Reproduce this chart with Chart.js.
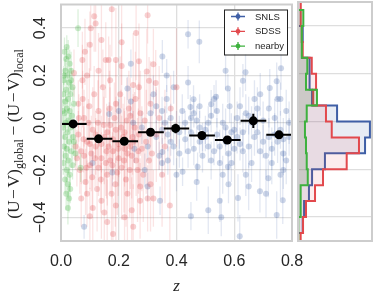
<!DOCTYPE html>
<html>
<head>
<meta charset="utf-8">
<script src="https://cdn.jsdelivr.net/npm/chart.js@4.4.1/dist/chart.umd.min.js"></script>
<style>
html, body { margin: 0; padding: 0; background: #fff; }
#wrap { position: relative; width: 374px; height: 297px; overflow: hidden; }
#main { position: absolute; left: 0; top: 0; }
#hist { position: absolute; left: 290px; top: 0; }
#ylab {
  position: absolute; left: -107px; top: 122px; width: 240px; height: 24px; line-height: 24px;
  text-align: center; transform: rotate(-90deg); white-space: nowrap;
  font-family: 'Liberation Serif', serif; font-size: 17.5px; color: #262626;
}
#ylab sub { font-size: 12px; vertical-align: -4px; line-height: 0; }
</style>
</head>
<body>
<div id="wrap">
  <canvas id="main" width="374" height="297"></canvas>
  <canvas id="hist" width="84" height="297"></canvas>
  <div id="ylab">(U&#8202;&minus;&#8202;V)<sub>global</sub>&thinsp;&minus;&thinsp;(U&#8202;&minus;&#8202;V)<sub>local</sub></div>
</div>
<script>
// tick values
var xTicks = [0, 0.2, 0.4, 0.6, 0.8];
var yTicks = [-0.4, -0.2, 0, 0.2, 0.4];

// [z, colour difference, error]
var snls = [
  [0.44,0.374,0.06],[0.479,0.342,0.09],[0.351,0.28,0.07],[0.366,0.20,0.07],[0.366,0.10,0.06],
  [0.448,0.067,0.05],[0.459,0.099,0.06],[0.48,0.07,0.05],[0.52,0.078,0.06],[0.537,0.11,0.07],
  [0.35,0.05,0.06],[0.639,0.214,0.08],[0.63,0.178,0.07],[0.578,0.145,0.06],[0.762,0.23,0.09],
  [0.747,0.175,0.08],[0.76,0.10,0.07],[0.53,0.10,0.06],[0.584,0.07,0.07],[0.723,0.147,0.08],
  [0.55,-0.17,0.07],[0.578,-0.186,0.06],[0.689,-0.29,0.09],[0.613,-0.318,0.10],[0.55,-0.33,0.09],
  [0.768,-0.328,0.10],[0.555,-0.40,0.08],[0.747,-0.39,0.10],[0.619,-0.48,0.09],[0.718,-0.235,0.08],
  [0.77,-0.20,0.08],[0.45,-0.395,0.06],[0.51,-0.37,0.10],[0.473,-0.186,0.06],[0.343,-0.33,0.06],
  [0.421,-0.207,0.06],[0.35,-0.17,0.06],[0.08,-0.44,0.05],[0.242,0.25,0.06],[0.23,0.145,0.05],
  [0.242,0.09,0.06],[0.167,0.037,0.05],[0.20,0.05,0.05],[0.109,-0.17,0.05],[0.178,-0.21,0.06],
  [0.254,-0.11,0.06],[0.25,0.0,0.05],
  [0.28,-0.02,0.07],[0.30,-0.10,0.06],[0.31,0.04,0.08],[0.33,-0.06,0.07],[0.34,-0.14,0.06],
  [0.29,-0.20,0.07],[0.32,0.12,0.08],[0.35,-0.03,0.06],[0.351,-0.124,0.06],[0.30,-0.27,0.06],
  [0.37,-0.05,0.07],[0.38,0.02,0.06],[0.39,-0.10,0.08],[0.40,-0.02,0.07],[0.41,-0.13,0.06],
  [0.42,0.05,0.07],[0.43,-0.07,0.06],[0.39,0.15,0.07],[0.40,-0.22,0.07],[0.37,-0.16,0.06],
  [0.43,0.00,0.05],[0.45,-0.04,0.06],[0.46,-0.11,0.07],[0.47,0.01,0.06],[0.48,-0.08,0.05],
  [0.49,-0.14,0.07],[0.50,-0.03,0.06],[0.51,-0.10,0.07],[0.52,0.03,0.07],[0.50,-0.06,0.06],
  [0.47,-0.25,0.08],[0.53,-0.12,0.06],[0.46,0.04,0.06],[0.54,-0.05,0.07],[0.55,-0.10,0.07],
  [0.56,0.00,0.08],[0.57,-0.08,0.06],[0.58,-0.13,0.07],[0.59,-0.04,0.08],[0.60,-0.11,0.07],
  [0.61,0.02,0.07],[0.56,-0.22,0.08],[0.60,-0.03,0.06],[0.62,-0.09,0.07],[0.58,-0.26,0.08],
  [0.63,-0.04,0.08],[0.64,0.04,0.08],[0.65,-0.10,0.09],[0.66,0.00,0.07],[0.67,-0.06,0.08],
  [0.68,0.06,0.09],[0.69,-0.12,0.08],[0.70,0.01,0.08],[0.66,-0.17,0.08],[0.64,-0.22,0.09],
  [0.70,-0.08,0.07],[0.67,0.10,0.08],[0.72,-0.06,0.08],[0.73,-0.11,0.09],[0.74,0.02,0.08],
  [0.75,-0.08,0.09],[0.76,-0.03,0.08],[0.77,-0.13,0.09],[0.78,0.05,0.09],[0.79,-0.06,0.08],
  [0.73,-0.17,0.09],[0.76,-0.22,0.10],
  [0.36,0.00,0.07],[0.38,-0.08,0.06],[0.41,-0.04,0.07],[0.44,-0.12,0.07],[0.45,0.02,0.06],
  [0.48,-0.02,0.07],[0.49,-0.06,0.06],[0.51,0.00,0.07],[0.52,-0.16,0.08],[0.54,0.05,0.07],
  [0.57,-0.02,0.08],[0.59,-0.17,0.08],[0.61,-0.06,0.07],[0.62,0.07,0.08],[0.63,-0.12,0.09],
  [0.65,0.03,0.08],[0.68,-0.04,0.09],[0.69,0.12,0.09],[0.71,-0.14,0.09],[0.72,0.06,0.08],
  [0.74,-0.05,0.09],[0.75,0.10,0.10],[0.77,-0.07,0.09],[0.78,-0.16,0.10],[0.79,0.00,0.09],
  [0.65,-0.27,0.10],[0.71,-0.30,0.10],[0.44,0.17,0.07],[0.57,0.22,0.08],[0.33,0.07,0.07]
];

var sdss = [
  [0.176,0.48,0.20],[0.115,0.45,0.15],[0.12,0.42,0.12],[0.103,0.40,0.18],[0.10,0.33,0.14],
  [0.074,0.265,0.12],[0.155,0.265,0.16],[0.165,0.265,0.10],[0.19,0.265,0.22],[0.30,0.455,0.12],
  [0.32,0.247,0.15],[0.297,0.217,0.18],[0.305,0.178,0.10],[0.328,0.168,0.14],[0.27,0.15,0.12],
  [0.40,0.15,0.25],[0.27,0.26,0.16],[0.38,0.06,0.14],[0.045,0.21,0.10],[0.074,0.18,0.15],
  [0.274,-0.27,0.12],[0.274,-0.33,0.16],[0.30,-0.32,0.14],[0.32,-0.32,0.12],[0.377,-0.35,0.25],
  [0.305,-0.16,0.12],[0.18,-0.47,0.15],[0.25,-0.44,0.18],[0.245,-0.37,0.14],[0.10,-0.395,0.12],
  [0.14,-0.33,0.16],
  [0.06,-0.05,0.10],[0.07,-0.12,0.14],[0.08,0.02,0.12],[0.09,-0.08,0.16],[0.10,-0.18,0.10],
  [0.11,-0.03,0.18],[0.12,-0.10,0.12],[0.13,0.05,0.15],[0.14,-0.15,0.11],[0.15,-0.06,0.20],
  [0.16,-0.22,0.13],[0.17,-0.01,0.16],[0.18,-0.12,0.12],[0.19,0.08,0.18],[0.20,-0.09,0.14],
  [0.21,-0.19,0.22],[0.22,-0.04,0.15],[0.23,-0.13,0.18],[0.24,0.03,0.16],[0.25,-0.08,0.20],
  [0.26,-0.16,0.15],[0.27,-0.05,0.22],[0.28,-0.11,0.18],[0.29,0.01,0.20],
  [0.065,-0.20,0.10],[0.075,0.10,0.12],[0.085,-0.25,0.14],[0.095,0.00,0.10],[0.105,-0.13,0.16],
  [0.115,0.12,0.12],[0.125,-0.28,0.18],[0.135,-0.07,0.12],[0.145,0.15,0.16],[0.155,-0.17,0.14],
  [0.165,-0.10,0.12],[0.175,-0.30,0.20],[0.185,0.02,0.15],[0.195,-0.21,0.18],[0.205,0.12,0.16],
  [0.215,-0.06,0.14],[0.225,-0.24,0.20],[0.235,0.06,0.16],[0.245,-0.14,0.18],[0.255,-0.02,0.15],
  [0.265,-0.20,0.22],[0.275,0.04,0.18],
  [0.07,-0.32,0.12],[0.09,0.20,0.14],[0.11,-0.36,0.15],[0.13,0.22,0.16],[0.15,-0.38,0.18],
  [0.17,0.18,0.15],[0.19,-0.35,0.20],[0.21,0.24,0.18],[0.23,-0.30,0.20],[0.25,0.16,0.22],
  [0.12,-0.05,0.10],[0.14,-0.09,0.12],[0.16,-0.04,0.10],[0.18,-0.07,0.14],[0.20,-0.15,0.12],
  [0.22,-0.11,0.16],[0.10,-0.09,0.10],[0.08,-0.14,0.12],[0.17,-0.16,0.14],[0.13,-0.19,0.12],
  [0.24,-0.10,0.18],[0.19,-0.03,0.14],[0.06,0.08,0.10],[0.05,-0.10,0.10],[0.33,-0.05,0.20],
  [0.35,-0.22,0.22],[0.31,0.08,0.18],[0.36,-0.10,0.24],
  [0.055,-0.15,0.12],[0.062,0.02,0.10],[0.078,-0.07,0.14],[0.088,-0.19,0.12],[0.098,0.07,0.16],
  [0.108,-0.23,0.14],[0.118,-0.15,0.12],[0.128,0.00,0.18],[0.138,-0.24,0.14],[0.148,-0.01,0.12],
  [0.158,-0.12,0.20],[0.168,0.06,0.16],[0.178,-0.18,0.14],[0.188,-0.26,0.18],[0.198,-0.11,0.20],
  [0.208,-0.02,0.16],[0.218,-0.16,0.22],[0.228,0.01,0.18],[0.238,-0.20,0.20],[0.248,-0.06,0.16],
  [0.258,0.10,0.20],[0.268,-0.12,0.18],[0.285,-0.22,0.20],[0.295,-0.08,0.22],[0.315,-0.13,0.20],
  [0.34,0.02,0.22],[0.083,0.30,0.14],[0.14,0.35,0.20],[0.21,0.34,0.18],[0.26,0.38,0.20],
  [0.16,-0.42,0.18],[0.22,-0.40,0.20],[0.09,-0.30,0.14],[0.31,-0.26,0.20]
];

var nearby = [
  [0.059,0.40,0.08],[0.012,0.30,0.06],[0.018,0.27,0.05],[0.025,0.28,0.07],[0.030,0.25,0.06],
  [0.015,0.22,0.05],[0.022,0.20,0.04],[0.035,0.22,0.08],[0.010,0.18,0.05],[0.028,0.17,0.05],
  [0.040,0.15,0.06],[0.018,0.14,0.04],[0.008,0.12,0.05],[0.032,0.12,0.05],[0.024,0.10,0.06],
  [0.015,0.09,0.05],[0.045,0.08,0.07],[0.020,0.06,0.05],[0.030,0.05,0.04],[0.012,0.04,0.06],
  [0.038,0.03,0.05],[0.026,0.01,0.05],[0.016,0.00,0.04],[0.008,-0.02,0.05],[0.034,-0.02,0.06],
  [0.022,-0.04,0.05],[0.014,-0.06,0.06],[0.042,-0.06,0.05],[0.028,-0.08,0.05],[0.010,-0.10,0.06],
  [0.020,-0.11,0.05],[0.036,-0.12,0.07],[0.016,-0.14,0.05],[0.026,-0.16,0.06],[0.008,-0.17,0.05],
  [0.040,-0.18,0.06],[0.020,-0.20,0.05],[0.030,-0.22,0.07],[0.014,-0.24,0.06],[0.024,-0.26,0.06],
  [0.068,-0.19,0.06],[0.050,-0.13,0.05],[0.018,-0.30,0.07],[0.028,-0.32,0.06],[0.024,-0.36,0.07],
  [0.010,0.20,0.04],[0.020,0.32,0.05],[0.035,0.18,0.05],[0.045,-0.08,0.06],[0.006,0.05,0.05],
  [0.032,-0.28,0.06]
];

// binned means
var binZ   = [0.042, 0.13, 0.219, 0.31, 0.397, 0.488, 0.576, 0.666, 0.755];
var binY   = [-0.005, -0.068, -0.078, -0.04, -0.024, -0.054, -0.073, 0.008, -0.051];
var binErr = [0.014, 0.012, 0.012, 0.014, 0.02, 0.016, 0.012, 0.03, 0.016];
var binLo  = [0, 0.089, 0.178, 0.267, 0.356, 0.444, 0.533, 0.622, 0.711];
var binHi  = [0.089, 0.178, 0.267, 0.356, 0.444, 0.533, 0.622, 0.711, 0.8];

// side histogram (density per bin, bottom to top)
var histEdges = [-0.533,-0.467,-0.4,-0.333,-0.267,-0.2,-0.133,-0.067,0,0.067,0.133,0.2,0.267,0.333,0.4,0.467,0.533];
var histSnls   = [0,0.32,0.41,0.74,0.95,1.82,4.53,4.86,2.64,0.95,0.81,0.77,0.27,0.32,0.03,0];
var histSdss   = [0.18,0.34,0.54,1.15,1.69,3.29,4.12,2.28,1.89,1.03,1.22,0.93,0.32,0.25,0.2,0.18];
var histNearby = [0,0.03,0.18,0.18,0.66,0.59,0.54,0.47,0.59,1.28,0.54,0.63,0.27,0.25,0.36,0];

var blue = '#3f5fa6', red = '#e2494d', green = '#3eb13e';
var ink = '#262626';

function toPts(arr) { return arr.map(function(p){ return {x: p[0], y: p[1]}; }); }
function fixTicks(vals) { return function(s){ s.ticks = vals.map(function(v){ return {value: v}; }); }; }

var errorBars = {
  id: 'errorBars',
  beforeDatasetsDraw: function(chart) {
    var ctx = chart.ctx, xs = chart.scales.x, ys = chart.scales.y, a = chart.chartArea;
    ctx.save();
    ctx.beginPath(); ctx.rect(a.left, a.top, a.right - a.left, a.bottom - a.top); ctx.clip();
    ctx.lineWidth = 1.3;
    chart.data.datasets.forEach(function(ds) {
      if (!ds.yErr || ds.binned) return;
      ctx.strokeStyle = ds.errColor;
      ds.data.forEach(function(p, i) {
        var x = xs.getPixelForValue(p.x);
        ctx.beginPath();
        ctx.moveTo(x, ys.getPixelForValue(p.y - ds.yErr[i]));
        ctx.lineTo(x, ys.getPixelForValue(p.y + ds.yErr[i]));
        ctx.stroke();
      });
    });
    ctx.restore();
  },
  afterDatasetsDraw: function(chart) {
    var ctx = chart.ctx, xs = chart.scales.x, ys = chart.scales.y;
    ctx.save();
    ctx.strokeStyle = '#000';
    ctx.lineWidth = 2;
    binZ.forEach(function(z, i) {
      var x = xs.getPixelForValue(z), y = ys.getPixelForValue(binY[i]);
      ctx.beginPath();
      ctx.moveTo(xs.getPixelForValue(binLo[i]), y);
      ctx.lineTo(xs.getPixelForValue(binHi[i]), y);
      ctx.moveTo(x, ys.getPixelForValue(binY[i] - binErr[i]));
      ctx.lineTo(x, ys.getPixelForValue(binY[i] + binErr[i]));
      ctx.stroke();
    });
    ctx.restore();
  }
};

var frame = {
  id: 'frame',
  afterDraw: function(chart) {
    var ctx = chart.ctx, a = chart.chartArea;
    ctx.save();
    ctx.strokeStyle = '#cdcdcd';
    ctx.lineWidth = 2;
    ctx.strokeRect(a.left, a.top, a.right - a.left, a.bottom - a.top);
    ctx.restore();
  }
};

// rotated y tick labels and the boxed legend of the main panel
var mainDecor = {
  id: 'mainDecor',
  afterDraw: function(chart) {
    var ctx = chart.ctx, ys = chart.scales.y, a = chart.chartArea;
    ctx.save();
    ctx.font = '16px "Liberation Sans"';
    ctx.fillStyle = ink;
    ctx.textAlign = 'center';
    ctx.textBaseline = 'alphabetic';
    yTicks.forEach(function(v) {
      var txt = (v < 0 ? '\u2212' : '') + Math.abs(v).toFixed(1);
      ctx.save();
      ctx.translate(45, ys.getPixelForValue(v));
      ctx.rotate(-Math.PI / 2);
      ctx.fillText(txt, 0, 0);
      ctx.restore();
    });

    var bw = 63, bh = 45, bx = a.right - 5 - bw, by = a.top + 5;
    ctx.fillStyle = '#fff';
    ctx.fillRect(bx, by, bw, bh);
    ctx.strokeStyle = '#222';
    ctx.lineWidth = 1;
    ctx.strokeRect(bx + 0.5, by + 0.5, bw, bh);
    ctx.font = '9.5px "Liberation Sans"';
    ctx.textAlign = 'left';
    ctx.textBaseline = 'middle';
    chart.data.datasets.slice(0, 3).forEach(function(ds, i) {
      var cy = by + 7 + i * 14.8, cx = bx + 14;
      ctx.strokeStyle = ds.solid;
      ctx.fillStyle = ds.solid;
      ctx.lineWidth = 1.3;
      ctx.beginPath();
      ctx.moveTo(cx - 7, cy); ctx.lineTo(cx + 7, cy);
      ctx.moveTo(cx, cy - 4); ctx.lineTo(cx, cy + 4);
      ctx.stroke();
      ctx.beginPath(); ctx.arc(cx, cy, 2.4, 0, Math.PI * 2); ctx.fill();
      ctx.fillStyle = ink;
      ctx.fillText(ds.label, bx + 31, cy + 0.5);
    });
    ctx.restore();
  }
};

new Chart(document.getElementById('main'), {
  type: 'scatter',
  data: {
    datasets: [
      { label: 'SNLS', data: toPts(snls), yErr: snls.map(function(p){ return p[2]; }),
        solid: blue, errColor: 'rgba(63,95,166,0.15)', backgroundColor: 'rgba(63,95,166,0.26)',
        pointRadius: 3, borderWidth: 0, order: 3 },
      { label: 'SDSS', data: toPts(sdss), yErr: sdss.map(function(p){ return p[2]; }),
        solid: red, errColor: 'rgba(226,73,77,0.15)', backgroundColor: 'rgba(226,73,77,0.26)',
        pointRadius: 3, borderWidth: 0, order: 2 },
      { label: 'nearby', data: toPts(nearby), yErr: nearby.map(function(p){ return p[2]; }),
        solid: green, errColor: 'rgba(62,177,62,0.18)', backgroundColor: 'rgba(62,177,62,0.26)',
        pointRadius: 3, borderWidth: 0, order: 1 },
      { label: 'binned', binned: true, data: binZ.map(function(z, i){ return {x: z, y: binY[i]}; }),
        backgroundColor: '#000', pointRadius: 4.5, borderWidth: 0, order: 0 }
    ]
  },
  options: {
    responsive: false,
    animation: false,
    events: [],
    layout: { padding: { top: 2, right: 82, left: 0, bottom: 0 } },
    plugins: { legend: { display: false }, tooltip: { enabled: false } },
    scales: {
      x: {
        type: 'linear', min: 0, max: 0.8,
        afterBuildTicks: fixTicks(xTicks),
        afterFit: function(s){ s.height = 56; },
        grid: { color: '#dedede', lineWidth: 1.3, drawTicks: false },
        border: { display: false },
        ticks: { padding: 11, color: ink, font: { family: 'Liberation Sans', size: 16 },
                 callback: function(v){ return v.toFixed(1); } },
        title: { display: true, text: 'z', color: ink, padding: { top: 0, bottom: 0 },
                 font: { family: 'Liberation Serif', style: 'italic', size: 17 } }
      },
      y: {
        type: 'linear', min: -0.5, max: 0.5,
        afterBuildTicks: fixTicks(yTicks),
        afterFit: function(s){ s.width = 61; },
        grid: { color: '#dedede', lineWidth: 1.3, drawTicks: false },
        border: { display: false },
        ticks: { display: false }
      }
    }
  },
  plugins: [errorBars, frame, mainDecor]
});

function stepPts(vals) {
  var pts = [{x: 0, y: histEdges[0]}];
  vals.forEach(function(v, i) {
    pts.push({x: v, y: histEdges[i]});
    pts.push({x: v, y: histEdges[i + 1]});
  });
  pts.push({x: 0, y: histEdges[histEdges.length - 1]});
  return pts;
}

new Chart(document.getElementById('hist'), {
  type: 'line',
  data: {
    datasets: [
      { label: 'SNLS', data: stepPts(histSnls), borderColor: blue, backgroundColor: 'rgba(63,95,166,0.12)',
        fill: 'origin', borderWidth: 2, pointRadius: 0, tension: 0, order: 3 },
      { label: 'SDSS', data: stepPts(histSdss), borderColor: red, backgroundColor: 'rgba(226,73,77,0.1)',
        fill: 'origin', borderWidth: 2, pointRadius: 0, tension: 0, order: 2 },
      { label: 'nearby', data: stepPts(histNearby), borderColor: green, backgroundColor: 'rgba(80,120,70,0.18)',
        fill: 'origin', borderWidth: 2, pointRadius: 0, tension: 0, order: 1 }
    ]
  },
  options: {
    indexAxis: 'y',
    responsive: false,
    animation: false,
    events: [],
    layout: { padding: { top: 2, right: 2, left: 8, bottom: 56 } },
    plugins: { legend: { display: false }, tooltip: { enabled: false } },
    scales: {
      x: { type: 'linear', min: 0, max: 5, display: false },
      y: {
        type: 'linear', min: -0.5, max: 0.5,
        afterBuildTicks: fixTicks(yTicks),
        afterFit: function(s){ s.width = 0; },
        grid: { color: '#dedede', lineWidth: 1.3, drawTicks: false },
        border: { display: false },
        ticks: { display: false }
      }
    }
  },
  plugins: [frame]
});
</script>
</body>
</html>
